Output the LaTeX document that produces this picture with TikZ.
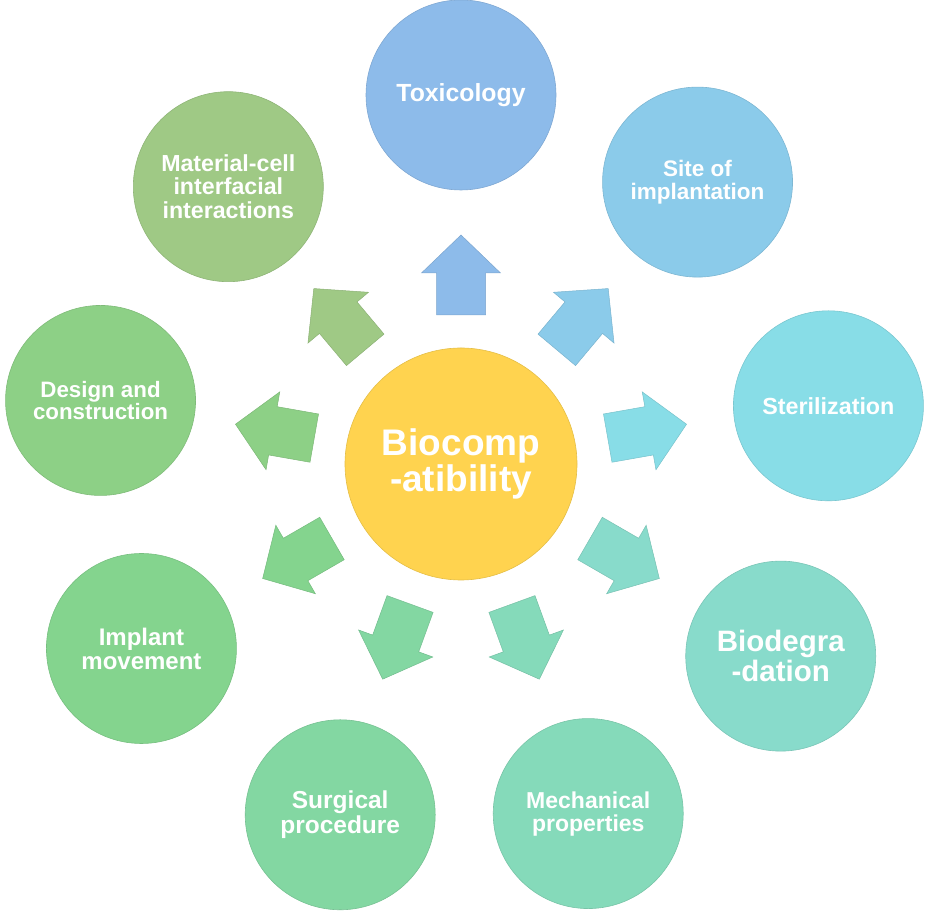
\documentclass[tikz,border=0pt]{standalone}
\usepackage{fontspec}
\setmainfont{Liberation Sans}
\usetikzlibrary{calc}
\definecolor{cHub}{HTML}{FFD34F}
\definecolor{cTox}{HTML}{8DBBEA}
\definecolor{cSite}{HTML}{8BCBEA}
\definecolor{cSter}{HTML}{88DDE7}
\definecolor{cBio}{HTML}{88DBCB}
\definecolor{cMech}{HTML}{85DABA}
\definecolor{cSurg}{HTML}{83D7A2}
\definecolor{cImpl}{HTML}{84D48E}
\definecolor{cDes}{HTML}{8DD086}
\definecolor{cMat}{HTML}{9FC985}
\newcommand\fsz[1]{\fontsize{#1}{#1}\selectfont\bfseries}
\tikzset{
  outercirc/.style={circle, minimum size=190pt, inner sep=0pt, fill=#1,
    draw=#1!90!black, line width=0.6pt, text=white, align=center},
  hubcirc/.style={circle, minimum size=232pt, inner sep=0pt, fill=cHub,
    draw=cHub!90!black, line width=0.6pt, text=white, align=center,
    font=\fontsize{37}{32}\selectfont\bfseries},
  blockarrow/.style={fill=#1, draw=#1!88!black, line width=0.5pt, line join=miter}
}
\begin{document}
\begin{tikzpicture}[x=1pt,y=1pt]
\useasboundingbox (0,0) rectangle (926,917);
\coordinate (O) at (461,453);
\node[hubcirc] (hub) at (O) {Biocomp\\-atibility};

\node[outercirc=cTox,  font=\fsz{24.8}] (tox)  at ($(O)+(90:369)$)  {Toxicology};
\node[outercirc=cSite, font=\fsz{22.5}] (site) at ($(O)+(50:368)$)  {Site of\\implantation};
\node[outercirc=cSter, font=\fsz{23.3}] (ster) at ($(O)+(9:372)$)   {Sterilization};
\node[outercirc=cBio,  font=\fsz{29.5}] (bio)  at ($(O)+(-31:373)$) {Biodegra\\-dation};
\node[outercirc=cMech, font=\fsz{23}]   (mech) at ($(O)+(-70:372)$) {Mechanical\\properties};
\node[outercirc=cSurg, font=\fsz{24.5}] (surg) at ($(O)+(-109:371)$) {Surgical\\procedure};
\node[outercirc=cImpl, font=\fsz{24}]   (impl) at ($(O)+(-150:369)$) {Implant\\movement};
\node[outercirc=cDes,  font=\fsz{22.3}] (des)  at ($(O)+(170:366)$) {Design and\\construction};
\node[outercirc=cMat,  font=\fsz{23.2}] (mat)  at ($(O)+(130:362)$) {Material-cell\\interfacial\\interactions};

\foreach \ang/\col in {90/cTox, 50/cSite, 10/cSter, -30/cBio, -70/cMech, -110/cSurg, -150/cImpl, 170/cDes, 130/cMat}{
  \begin{scope}[shift={(hub.center)}, rotate=\ang]
    \path[blockarrow=\col] (149,-24.5) -- (191,-24.5) -- (191,-39.5) -- (229,0)
      -- (191,39.5) -- (191,24.5) -- (149,24.5) -- cycle;
  \end{scope}
}
\end{tikzpicture}
\end{document}
